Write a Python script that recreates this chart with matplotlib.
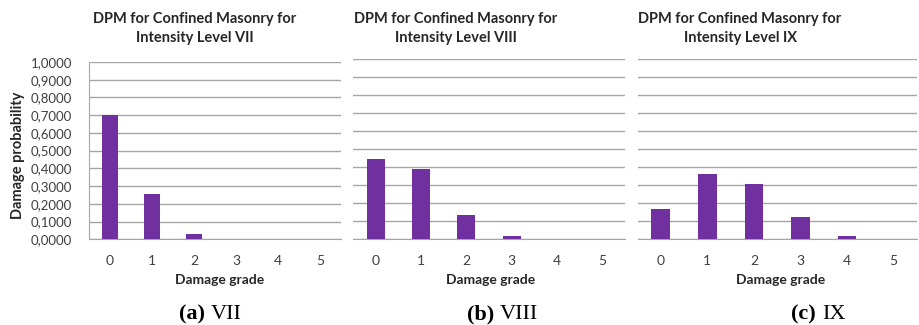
"""
Damage probability matrices for confined masonry, intensity VII / VIII / IX
"""

import numpy as np
import matplotlib
matplotlib.use("Agg")
import matplotlib.pyplot as plt
from matplotlib.ticker import FuncFormatter

plt.rcParams['font.family'] = ['Lato', 'DejaVu Sans']

grades = [0, 1, 2, 3, 4, 5]
prob_vii = [0.702, 0.254, 0.030, 0.003, 0.003, 0.003]
prob_viii = [0.443, 0.388, 0.133, 0.017, 0.003, 0.003]
prob_ix = [0.167, 0.361, 0.304, 0.123, 0.018, 0.002]

titles = ["DPM for Confined Masonry for\nIntensity Level VII",
          "DPM for Confined Masonry for\nIntensity Level VIII",
          "DPM for Confined Masonry for\nIntensity Level IX"]
captions = [("(a)", "VII"), ("(b)", "VIII"), ("(c)", "IX")]
yticks = np.arange(0, 1.01, 0.1)

W, H = 919, 325
BAR = "#7030a0"
GRID = "#a6a6a6"
TXT = "#404040"

fig = plt.figure(figsize=(W / 100, H / 100), dpi=100)


def px_axes(x0, x1, ytop, ybot):
    return fig.add_axes([x0 / W, 1 - ybot / H, (x1 - x0) / W, (ybot - ytop) / H])


# pixel boxes: left, right, top (value 1.0), bottom (value 0)
boxes = [(89, 341, 62, 239.3), (353, 625, 58.5, 239.3), (637.5, 917, 58.5, 239.3)]
title_x = [195, 456, 740]
xlabel_x = [220, 491, 781]
caption_gap = [208, 497, 819]  # midpoint between "(a)" and "VII"

for i, (data, box) in enumerate(zip([prob_vii, prob_viii, prob_ix], boxes)):
    ax = px_axes(*box)
    ax.bar(grades, data, width=0.4, color=BAR, zorder=3)
    ax.set_xlim(-0.5, 5.5)
    ax.set_ylim(0, 1.0)
    ax.set_yticks(yticks)
    ax.grid(axis='y', color=GRID, linewidth=1.0, zorder=0)
    ax.set_xticks(grades)
    ax.tick_params(axis='x', length=0, pad=11, labelsize=10, labelcolor=TXT)
    for s in ['top', 'right']:
        ax.spines[s].set_visible(False)
    ax.spines['bottom'].set_color(GRID)
    if i == 0:
        ax.spines['left'].set_color(GRID)
        ax.tick_params(axis='y', length=0, pad=12, labelsize=9.5, labelcolor=TXT)
        ax.yaxis.set_major_formatter(FuncFormatter(lambda v, p: f"{v:.4f}".replace('.', ',')))
    else:
        ax.spines['left'].set_visible(False)
        ax.tick_params(axis='y', length=0, labelleft=False)

    fig.text(title_x[i] / W, 1 - 28.5 / H, titles[i], ha='center', va='center',
             fontsize=10.5, fontweight='bold', color='#262626', linespacing=1.5)
    fig.text(xlabel_x[i] / W, 1 - 280 / H, "Damage grade", ha='center', va='center',
             fontsize=10, fontweight='bold', color='#262626')
    lab, lvl = captions[i]
    fig.text((caption_gap[i] - 3) / W, 1 - 319 / H, lab, ha='right', va='baseline',
             fontsize=16, fontweight='bold', family='Liberation Serif')
    fig.text((caption_gap[i] + 3) / W, 1 - 319 / H, lvl, ha='left', va='baseline',
             fontsize=16, family='Liberation Serif')

fig.text(18 / W, 1 - 155 / H, "Damage probability", rotation=90, ha='center', va='center',
         fontsize=10.5, fontweight='bold', color='#262626')

fig.savefig("out.png", dpi=100)
